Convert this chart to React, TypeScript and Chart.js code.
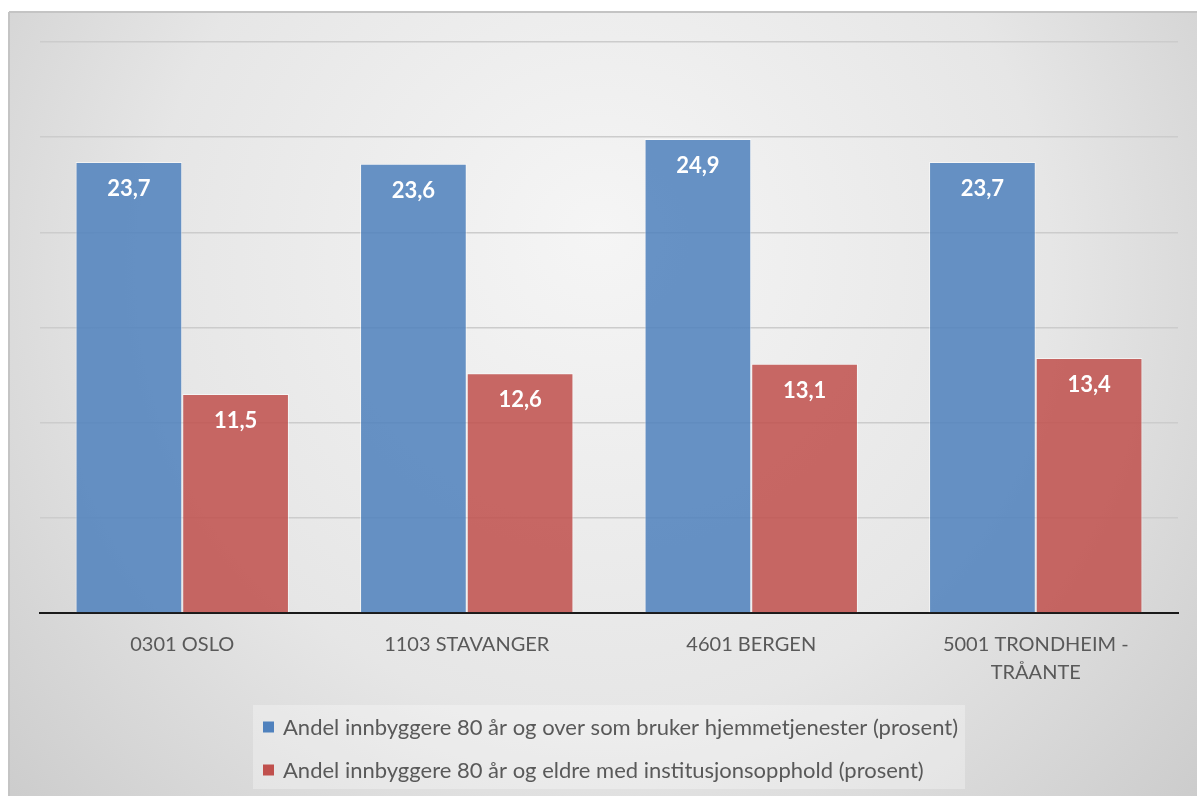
import React, { useEffect, useRef } from "react";
import { Chart, registerables } from "chart.js";

Chart.register(...registerables);

const categories: (string | string[])[] = [
  "0301 OSLO",
  "1103 STAVANGER",
  "4601 BERGEN",
  ["5001 TRONDHEIM -", "TRÅANTE"],
];
const seriesHomeCare = [23.7, 23.6, 24.9, 23.7];
const seriesInstitution = [11.5, 12.6, 13.1, 13.4];
const seriesNames = [
  "Andel innbyggere 80 år og over som bruker hjemmetjenester (prosent)",
  "Andel innbyggere 80 år og eldre med institusjonsopphold (prosent)",
];
const yMin = 0;
const yMax = 30;
const yStep = 5;

const FONT = "Lato, 'Open Sans', sans-serif";
const BLUE = "rgba(79,129,189,0.86)";
const RED = "rgba(192,80,77,0.86)";
const BLUE_SOLID = "#4f81bd";
const RED_SOLID = "#c0504d";

const bgPlugin = {
  id: "bgFrame",
  beforeDraw(chart: any) {
    const { ctx, width, height } = chart;
    ctx.save();
    ctx.fillStyle = "#ffffff";
    ctx.fillRect(0, 0, width, height);
    const g = ctx.createRadialGradient(600, 230, 0, 600, 300, 820);
    g.addColorStop(0, "#f5f5f5");
    g.addColorStop(0.55, "#e6e6e6");
    g.addColorStop(1, "#c9c9c9");
    ctx.fillStyle = g;
    ctx.fillRect(9, 12, width - 9, height - 12);
    ctx.strokeStyle = "#c4c4c4";
    ctx.lineWidth = 2;
    ctx.beginPath();
    ctx.moveTo(9, 12);
    ctx.lineTo(width, 12);
    ctx.moveTo(9, 12);
    ctx.lineTo(9, height);
    ctx.stroke();
    ctx.restore();
  },
};

const labelPlugin = {
  id: "valueLabels",
  afterDatasetsDraw(chart: any) {
    const { ctx } = chart;
    ctx.save();
    ctx.font = `bold 22px ${FONT}`;
    ctx.fillStyle = "#ffffff";
    ctx.textAlign = "center";
    ctx.textBaseline = "middle";
    chart.data.datasets.forEach((ds: any, di: number) => {
      const meta = chart.getDatasetMeta(di);
      meta.data.forEach((bar: any, i: number) => {
        const v = ds.data[i] as number;
        ctx.fillText(v.toFixed(1).replace(".", ","), bar.x, bar.y + 27);
      });
    });
    ctx.restore();
  },
};

const legendPlugin = {
  id: "boxLegend",
  afterDraw(chart: any) {
    const { ctx } = chart;
    ctx.save();
    const left = 253;
    const top = 705;
    const w = 712;
    const h = 84;
    ctx.fillStyle = "rgba(255,255,255,0.3)";
    ctx.fillRect(left, top, w, h);
    ctx.font = `22px ${FONT}`;
    ctx.textBaseline = "middle";
    ctx.textAlign = "left";
    const rowY = [727, 770];
    chart.data.datasets.forEach((ds: any, i: number) => {
      const y = rowY[i];
      ctx.fillStyle = ds.legendColor;
      ctx.fillRect(263, y - 5.5, 11, 11);
      ctx.fillStyle = "#595959";
      ctx.fillText(ds.label, 283, y + 1);
    });
    ctx.restore();
  },
};

export default function App() {
  const ref = useRef<HTMLCanvasElement | null>(null);
  useEffect(() => {
    if (!ref.current) return;
    const chart = new Chart(ref.current, {
      type: "bar",
      data: {
        labels: categories,
        datasets: [
          {
            label: seriesNames[0],
            data: seriesHomeCare,
            backgroundColor: BLUE,
            borderColor: "rgba(255,255,255,0.55)",
            borderWidth: 1,
            legendColor: BLUE_SOLID,
          } as any,
          {
            label: seriesNames[1],
            data: seriesInstitution,
            backgroundColor: RED,
            borderColor: "rgba(255,255,255,0.55)",
            borderWidth: 1,
            legendColor: RED_SOLID,
          } as any,
        ],
      },
      options: {
        responsive: false,
        animation: false,
        devicePixelRatio: 1,
        layout: { padding: { left: 40, right: 19, top: 42, bottom: 91 } },
        datasets: {
          bar: { categoryPercentage: 0.75, barPercentage: 1.0 },
        },
        plugins: {
          legend: { display: false },
          tooltip: { enabled: false },
          title: { display: false },
        },
        scales: {
          x: {
            grid: { display: false, drawTicks: false },
            border: { display: true, color: "#1a1a1a", width: 2 },
            ticks: {
              color: "#595959",
              font: { family: FONT, size: 20, lineHeight: 1.4 },
              padding: 18,
              maxRotation: 0,
              autoSkip: false,
            },
          },
          y: {
            min: yMin,
            max: yMax,
            ticks: { display: false, stepSize: yStep },
            grid: { color: "#cccccc", lineWidth: 1.5, drawTicks: false },
            border: { display: false },
            afterFit(scale: any) {
              scale.width = 0;
            },
          },
        },
      },
      plugins: [bgPlugin, labelPlugin, legendPlugin],
    });
    return () => chart.destroy();
  }, []);
  return (
    <div style={{ position: "fixed", left: 0, top: 0, width: 1197, height: 796 }}>
      <canvas ref={ref} width={1197} height={796} style={{ width: 1197, height: 796 }} />
    </div>
  );
}
